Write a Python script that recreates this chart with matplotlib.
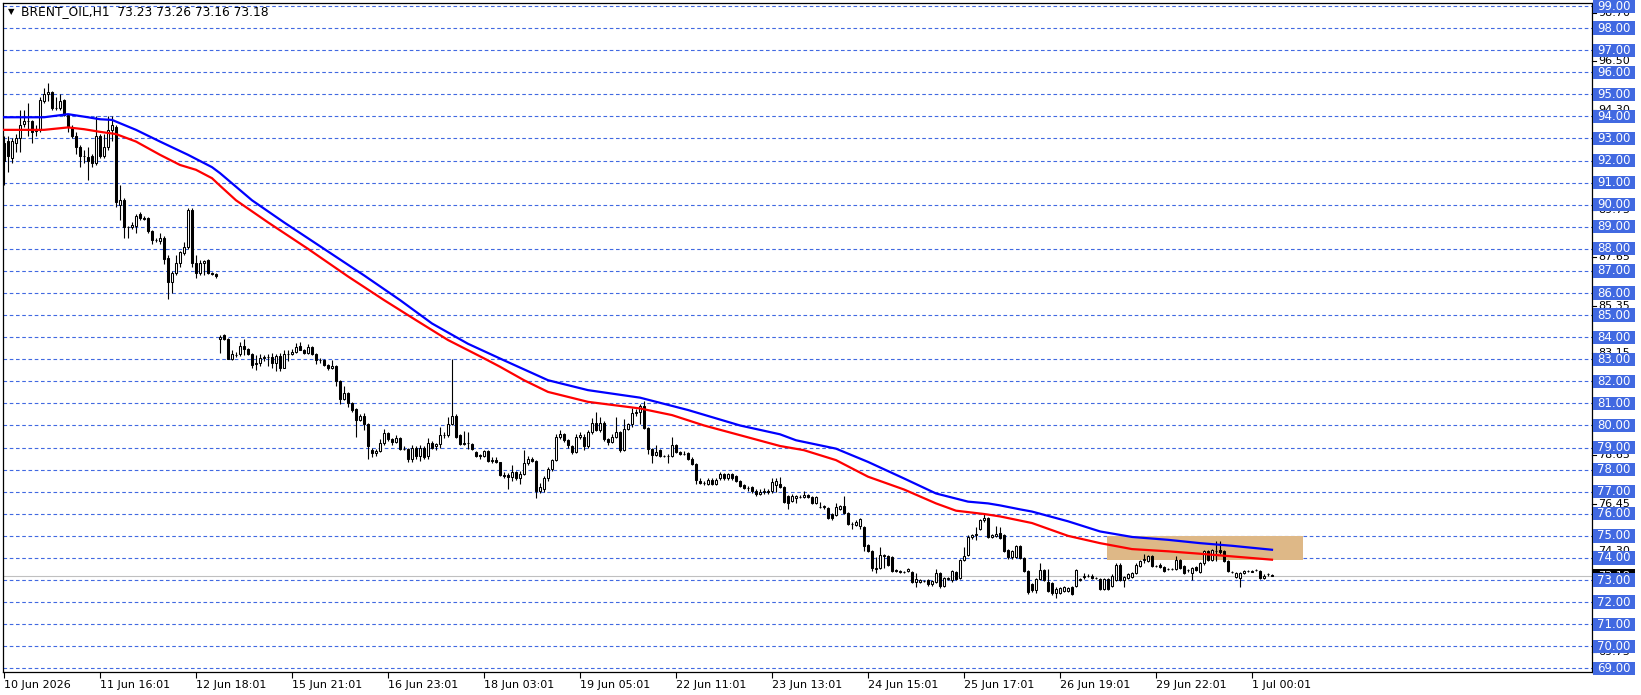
import matplotlib
matplotlib.use('Agg')
import matplotlib.pyplot as plt
from matplotlib.patches import Rectangle
import numpy as np

""" BRENT_OIL H1 candlestick chart in MetaTrader style """

# hourly bars, open / high / low / close
opens = [92.8, 92.9, 92.1, 92.8, 93.0, 93.65, 93.8, 93.8, 93.35, 93.4,
         94.7, 95.0, 95.1, 94.4, 94.4, 94.75, 94.05, 93.5, 93.1, 92.6,
         92.2, 92.15, 92.2, 91.9, 93.1, 92.2, 92.6, 93.4, 93.5, 90.0,
         90.2, 89.0, 89.0, 89.05, 89.6, 89.4, 89.4, 88.8, 88.4, 88.35,
         88.5, 87.6, 86.5, 86.9, 87.35, 87.8, 88.1, 89.75, 87.35, 86.9,
         87.35, 87.5, 86.9, 86.85, 83.9, 84.1, 83.9, 83.0, 83.2, 83.25,
         83.6, 83.45, 83.25, 82.8, 82.85, 83.05, 83.1, 83.1, 82.85, 83.15,
         82.6, 83.25, 83.25, 83.35, 83.6, 83.4, 83.3, 83.55, 83.25, 82.95,
         82.95, 82.75, 82.6, 82.7, 82.0, 81.2, 81.45, 81.0, 80.75, 80.25,
         80.45, 80.05, 78.9, 78.75, 78.85, 79.2, 79.65, 79.4, 79.25, 79.45,
         78.95, 78.95, 78.5, 79.0, 78.6, 79.0, 78.6, 79.2, 79.05, 79.15,
         79.55, 79.55, 80.05, 80.45, 79.55, 79.15, 79.2, 79.15, 78.8, 78.65,
         78.6, 78.85, 78.4, 78.45, 78.35, 77.75, 77.75, 77.65, 77.9, 77.6,
         77.8, 78.3, 78.5, 78.4, 77.05, 77.1, 77.6, 78.05, 78.45, 79.5,
         79.6, 79.35, 79.05, 78.8, 79.5, 79.5, 79.05, 79.7, 80.1, 79.8,
         80.1, 79.4, 79.25, 79.5, 79.7, 78.9, 79.85, 80.05, 80.55, 80.6,
         80.9, 79.9, 78.95, 78.65, 78.9, 78.6, 78.6, 78.6, 79.1, 78.8,
         78.7, 78.75, 78.5, 78.25, 77.5, 77.4, 77.35, 77.55, 77.35, 77.6,
         77.8, 77.6, 77.8, 77.7, 77.5, 77.3, 77.15, 77.2, 77.05, 76.9,
         77.0, 77.05, 77.05, 77.3, 77.35, 77.2, 76.8, 76.6, 76.7, 76.75,
         76.75, 76.85, 76.75, 76.5, 76.3, 76.3, 76.25, 76.0, 75.95, 76.2,
         76.35, 76.05, 75.55, 75.5, 75.45, 75.4, 74.6, 74.3, 73.5, 73.55,
         74.1, 74.1, 74.05, 73.45, 73.42, 73.35, 73.4, 73.35, 72.9, 72.9,
         72.95, 73.0, 72.8, 72.9, 73.3, 72.75, 73.05, 73.0, 73.35, 73.1,
         73.9, 74.15, 74.95, 75.05, 75.3, 75.7, 75.8, 74.95, 75.0, 75.15,
         75.05, 74.35, 74.05, 74.05, 74.55, 74.0, 73.4, 72.8, 72.55, 73.05,
         73.45, 72.9, 72.85, 72.4, 72.4, 72.5, 72.5, 72.7, 72.75, 73.0,
         73.15, 73.2, 73.2, 73.1, 73.05, 72.6, 73.05, 72.75, 73.0, 73.7,
         73.0, 73.1, 73.15, 73.3, 73.65, 73.9, 73.85, 74.1, 73.65, 73.7,
         73.6, 73.5, 73.5, 73.5, 73.9, 73.65, 73.45, 73.3, 73.6, 73.35,
         73.75, 74.3, 73.9, 74.3, 74.35, 74.3, 73.85, 73.35, 73.15, 73.1,
         73.3, 73.4, 73.38, 73.45, 73.4, 73.1, 73.25, 73.23]
highs = [93.1, 93.1, 93.0, 93.2, 94.3, 94.3, 94.6, 93.85, 93.6, 94.9,
         95.3, 95.5, 95.15, 94.9, 95.0, 94.8, 94.1, 93.6, 93.3, 92.7,
         92.5, 92.6, 92.3, 94.0, 93.2, 93.2, 94.0, 94.0, 93.6, 90.9,
         90.3, 89.05, 89.2, 89.6, 89.65, 89.5, 89.45, 88.85, 88.5, 88.7,
         88.6, 87.7, 87.0, 87.7, 87.9, 88.3, 89.85, 89.85, 87.7, 87.5,
         87.5, 87.55, 86.95, 86.9, 84.1, 84.15, 83.95, 83.4, 83.35, 83.8,
         83.9, 83.5, 83.3, 83.2, 83.25, 83.2, 83.25, 83.3, 83.25, 83.3,
         83.4, 83.4, 83.45, 83.75, 83.8, 83.45, 83.7, 83.6, 83.3, 83.05,
         83.0, 82.8, 82.95, 82.75, 82.05, 81.8, 81.5, 81.05, 80.8, 80.5,
         80.55, 80.1, 79.0, 78.95, 79.4, 79.85, 79.7, 79.45, 79.55, 79.5,
         79.05, 79.0, 79.1, 79.05, 79.1, 79.05, 79.45, 79.3, 79.2, 79.95,
         79.7, 80.4, 83.0, 80.5, 79.6, 79.75, 79.7, 79.2, 78.85, 78.7,
         78.9, 78.9, 78.55, 78.55, 78.35, 77.9, 77.85, 78.2, 77.95, 77.95,
         78.9, 78.6, 78.55, 78.45, 77.4, 77.7, 78.1, 78.5, 79.6, 79.8,
         79.65, 79.4, 79.1, 79.6, 79.7, 79.6, 79.8, 80.35, 80.6, 80.4,
         80.2, 79.45, 79.6, 80.4, 79.75, 80.3, 80.1, 80.8, 80.75, 80.95,
         81.1, 79.95, 79.0, 79.1, 78.95, 78.65, 78.7, 79.5, 79.15, 78.85,
         78.85, 78.8, 78.55, 78.3, 77.6, 77.5, 77.6, 77.6, 77.6, 77.9,
         77.85, 77.85, 77.85, 77.75, 77.55, 77.35, 77.25, 77.25, 77.1, 77.1,
         77.15, 77.1, 77.6, 77.6, 77.65, 77.25, 76.85, 76.9, 76.85, 76.85,
         77.05, 76.9, 76.8, 76.8, 76.55, 76.4, 76.3, 76.05, 76.5, 76.4,
         76.8, 76.1, 75.65, 75.7, 75.8, 75.45, 74.65, 74.35, 74.05, 74.5,
         74.2, 74.15, 74.1, 73.5, 73.45, 73.4, 73.55, 73.4, 73.3, 73.05,
         73.0, 73.05, 73.0, 73.5, 73.35, 73.15, 73.15, 73.45, 73.4, 73.95,
         74.5, 75.05, 75.1, 75.4, 75.75, 76.05, 75.85, 75.1, 75.45, 75.4,
         75.1, 74.4, 74.35, 74.6, 74.6, 74.05, 73.45, 72.85, 73.1, 73.75,
         73.5, 73.5, 72.9, 72.7, 72.7, 72.75, 72.7, 72.75, 73.5, 73.1,
         73.3, 73.25, 73.25, 73.15, 73.1, 73.1, 73.1, 73.25, 73.75, 73.75,
         73.2, 73.3, 73.35, 73.75, 73.9, 74.2, 74.15, 74.15, 73.7, 73.75,
         73.65, 73.55, 73.55, 74.1, 73.95, 73.7, 73.5, 73.6, 73.65, 73.8,
         74.35, 74.35, 74.4, 74.75, 74.75, 74.35, 73.9, 73.4, 73.35, 73.35,
         73.45, 73.45, 73.45, 73.5, 73.45, 73.25, 73.3, 73.26]
lows = [90.9, 91.5, 91.9, 92.4, 92.4, 93.5, 93.1, 92.8, 93.1, 93.3,
        94.6, 94.7, 94.3, 94.3, 94.3, 94.0, 93.3, 93.0, 92.3, 91.7,
        91.9, 91.1, 91.7, 91.8, 92.1, 92.1, 92.5, 92.9, 89.9, 89.3,
        88.5, 88.5, 88.9, 88.7, 89.3, 89.3, 88.7, 88.2, 88.3, 88.2,
        87.3, 85.75, 86.0, 86.8, 87.2, 87.7, 88.0, 87.2, 86.7, 86.8,
        86.8, 86.85, 86.8, 86.7, 83.3, 83.85, 83.0, 82.95, 83.1, 83.15,
        83.2, 83.2, 82.6, 82.5, 82.7, 82.9, 82.7, 82.6, 82.45, 82.45,
        82.6, 82.9, 83.2, 83.3, 83.4, 83.25, 83.25, 83.2, 82.8, 82.85,
        82.7, 82.5, 82.55, 81.8, 80.95, 81.15, 80.85, 80.6, 79.5, 80.2,
        79.8, 78.5, 78.55, 78.6, 78.8, 79.1, 79.3, 79.1, 79.2, 78.9,
        78.9, 78.35, 78.35, 78.5, 78.4, 78.5, 78.5, 78.95, 78.9, 79.0,
        79.45, 79.5, 80.0, 79.45, 79.1, 79.1, 78.95, 78.9, 78.55, 78.5,
        78.55, 78.35, 78.3, 78.3, 77.7, 77.6, 77.1, 77.5, 77.55, 77.35,
        77.75, 78.2, 78.35, 76.7, 76.95, 77.0, 77.5, 77.95, 78.4, 79.4,
        79.25, 79.0, 78.7, 78.75, 79.4, 78.9, 79.0, 79.6, 79.75, 79.7,
        79.3, 79.1, 79.2, 79.45, 78.8, 78.85, 79.8, 79.95, 80.45, 80.05,
        79.85, 78.7, 78.3, 78.6, 78.55, 78.55, 78.3, 78.55, 78.75, 78.65,
        78.65, 78.45, 78.2, 77.35, 77.35, 77.3, 77.3, 77.3, 77.3, 77.55,
        77.55, 77.55, 77.55, 77.45, 77.2, 77.1, 77.05, 76.95, 76.8, 76.85,
        76.9, 76.9, 76.95, 77.0, 77.15, 76.5, 76.2, 76.55, 76.5, 76.7,
        76.7, 76.7, 76.45, 76.45, 76.25, 76.2, 75.75, 75.7, 75.9, 76.15,
        76.0, 75.5, 75.3, 75.45, 75.3, 74.3, 74.25, 73.4, 73.3, 73.5,
        73.55, 73.65, 73.35, 73.35, 73.3, 73.3, 73.35, 72.85, 72.7, 72.85,
        72.9, 72.75, 72.75, 72.85, 72.65, 72.7, 73.0, 72.9, 73.0, 73.05,
        73.85, 74.1, 74.85, 74.8, 75.25, 75.65, 74.9, 74.9, 74.95, 74.85,
        74.25, 73.95, 73.95, 74.0, 73.95, 73.35, 72.35, 72.45, 72.4, 73.0,
        72.95, 72.45, 72.3, 72.2, 72.35, 72.45, 72.45, 72.3, 72.7, 72.95,
        73.05, 73.15, 73.05, 73.05, 72.55, 72.55, 72.55, 72.7, 72.95, 72.95,
        72.7, 73.05, 73.1, 73.25, 73.6, 73.75, 73.8, 73.6, 73.6, 73.55,
        73.35, 73.45, 73.45, 73.45, 73.5, 73.25, 73.35, 73.0, 73.4, 73.3,
        73.7, 73.85, 73.85, 73.85, 74.2, 73.8, 73.35, 73.3, 73.1, 72.7,
        73.25, 73.35, 73.35, 73.4, 73.05, 73.05, 73.2, 73.16]
closes = [92.0, 92.2, 92.9, 93.0, 93.6, 93.8, 93.8, 93.3, 93.4, 94.75,
          95.0, 95.1, 94.4, 94.4, 94.7, 94.05, 93.5, 93.1, 92.6, 92.2,
          92.2, 92.0, 91.9, 93.1, 92.2, 92.6, 93.4, 93.6, 90.1, 90.2,
          89.0, 89.0, 89.1, 89.5, 89.4, 89.35, 88.8, 88.4, 88.4, 88.5,
          87.55, 86.5, 86.9, 87.35, 87.85, 88.1, 89.75, 87.35, 86.9, 87.35,
          87.45, 86.9, 86.85, 86.75, 84.0, 83.9, 83.0, 83.25, 83.2, 83.6,
          83.45, 83.25, 82.75, 82.85, 83.05, 83.1, 83.1, 82.85, 83.15, 82.6,
          83.25, 83.25, 83.35, 83.55, 83.4, 83.3, 83.55, 83.25, 82.95, 82.95,
          82.75, 82.6, 82.7, 82.0, 81.2, 81.45, 81.0, 80.7, 80.25, 80.45,
          80.05, 79.05, 78.75, 78.85, 79.2, 79.65, 79.4, 79.25, 79.45, 78.95,
          78.95, 78.5, 79.0, 78.6, 79.0, 78.55, 79.2, 79.0, 79.15, 79.55,
          79.55, 80.05, 80.45, 79.5, 79.15, 79.2, 79.2, 78.95, 78.6, 78.6,
          78.85, 78.4, 78.45, 78.35, 77.75, 77.7, 77.65, 77.9, 77.6, 77.8,
          78.3, 78.5, 78.4, 77.05, 77.2, 77.6, 78.05, 78.45, 79.5, 79.6,
          79.35, 79.1, 78.8, 79.5, 79.55, 79.05, 79.7, 80.1, 79.8, 80.1,
          79.4, 79.25, 79.5, 79.7, 78.9, 79.85, 80.05, 80.55, 80.6, 80.9,
          79.9, 78.95, 78.65, 78.8, 78.6, 78.6, 78.6, 79.1, 78.8, 78.7,
          78.72, 78.5, 78.25, 77.55, 77.4, 77.4, 77.55, 77.35, 77.55, 77.8,
          77.6, 77.8, 77.6, 77.5, 77.25, 77.15, 77.15, 77.05, 76.9, 77.0,
          77.05, 77.0, 77.45, 77.5, 77.2, 76.55, 76.5, 76.8, 76.8, 76.75,
          76.85, 76.75, 76.5, 76.75, 76.3, 76.35, 75.8, 75.8, 76.3, 76.35,
          76.05, 75.55, 75.55, 75.65, 75.75, 74.55, 74.3, 73.55, 73.55, 74.15,
          74.15, 73.7, 73.4, 73.4, 73.35, 73.35, 73.5, 72.9, 73.05, 73.0,
          72.95, 72.8, 72.95, 73.3, 72.75, 73.1, 73.1, 73.4, 73.05, 73.9,
          74.1, 74.95, 75.05, 75.1, 75.7, 75.8, 74.95, 75.05, 75.1, 74.9,
          74.3, 74.05, 74.3, 74.55, 74.0, 73.4, 72.45, 72.55, 73.05, 73.45,
          73.0, 72.5, 72.4, 72.6, 72.65, 72.7, 72.65, 72.35, 73.45, 73.05,
          73.2, 73.2, 73.1, 73.1, 72.6, 73.05, 72.6, 73.2, 73.7, 73.0,
          73.15, 73.25, 73.3, 73.7, 73.85, 73.95, 74.1, 73.65, 73.65, 73.6,
          73.4, 73.5, 73.5, 73.9, 73.55, 73.3, 73.45, 73.55, 73.45, 73.75,
          74.3, 73.9, 74.35, 74.3, 74.25, 73.85, 73.4, 73.35, 73.3, 73.3,
          73.4, 73.4, 73.42, 73.45, 73.1, 73.2, 73.25, 73.18]

# moving averages (bar index, price)
ma_blue_x = [0, 10, 16, 21, 24, 27, 33, 39, 46, 52, 54, 62, 70, 80, 90,
             99, 107, 116, 125, 136, 146, 159, 171, 184, 194, 198, 208,
             216, 225, 233, 241, 246, 249, 254, 257, 266, 274, 282, 291,
             299, 307, 317]
ma_blue_y = [93.96, 93.96, 94.1, 93.96, 93.87, 93.84, 93.39, 92.86, 92.26,
             91.7, 91.43, 90.2, 89.2, 88.0, 86.8, 85.68, 84.62, 83.7, 82.95,
             82.05, 81.6, 81.26, 80.7, 80.0, 79.6, 79.33, 78.95, 78.35, 77.6,
             76.92, 76.55, 76.47, 76.38, 76.2, 76.1, 75.66, 75.2, 74.95,
             74.82, 74.67, 74.55, 74.37]
ma_red_x = [0, 10, 16, 20, 24, 28, 33, 39, 44, 48, 52, 54, 58, 66, 76, 86,
            95, 103, 111, 120, 124, 130, 136, 146, 159, 167, 175, 184, 194,
            200, 208, 216, 225, 233, 238, 245, 249, 257, 266, 274, 282, 291,
            299, 307, 317]
ma_red_y = [93.39, 93.39, 93.5, 93.42, 93.3, 93.2, 92.86, 92.26, 91.8, 91.58,
            91.2, 90.86, 90.2, 89.2, 88.0, 86.75, 85.68, 84.77, 83.87, 83.04,
            82.66, 82.05, 81.52, 81.07, 80.77, 80.47, 80.0, 79.56, 79.07,
            78.88, 78.43, 77.68, 77.1, 76.47, 76.14, 75.99, 75.88, 75.58,
            75.0, 74.67, 74.4, 74.3, 74.19, 74.07, 73.92]

# x axis labels
tick_bars = [0, 24, 48, 72, 96, 120, 144, 168, 192, 216, 240, 264, 288, 312]
tick_labels = ['10 Jun 2026', '11 Jun 16:01', '12 Jun 18:01', '15 Jun 21:01',
               '16 Jun 23:01', '18 Jun 03:01', '19 Jun 05:01', '22 Jun 11:01',
               '23 Jun 13:01', '24 Jun 15:01', '25 Jun 17:01', '26 Jun 19:01',
               '29 Jun 22:01', '1 Jul 00:01']

price_levels = list(range(69, 100))
extra_levels = [98.70, 96.50, 94.30, 89.75, 87.65, 85.40, 83.27, 78.65, 76.45,
                74.30, 69.74]
extra_texts = ['98.70', '96.50', '94.30', '89.75', '87.65', '85.35', '83.15',
               '78.65', '76.45', '74.30', '69.75']
last_price = 73.18
title = 'BRENT_OIL,H1  73.23 73.26 73.16 73.18'

# supply zone rectangle
zone_x = (275.7, 324.8)
zone_y = (73.92, 75.0)

W, H = 1641, 695
GRID = '#4169E1'
plt.rcParams['lines.scale_dashes'] = False
plt.rcParams['font.family'] = ['DejaVu Sans']

fig = plt.figure(figsize=(W / 100, H / 100), dpi=100)
fig.patch.set_facecolor('white')
ax = fig.add_axes([3 / W, (H - 672) / H, 1589 / W, 669 / H])
ax.set_xlim(-0.25, 397)
ax.set_ylim(68.833, 99.136)

for lv in price_levels:
    ax.axhline(lv, color=GRID, lw=0.8, ls=(0, (2.6, 1.9)), zorder=1)

ax.add_patch(Rectangle((zone_x[0], zone_y[0]), zone_x[1] - zone_x[0],
                       zone_y[1] - zone_y[0], fc='#DEB887', ec='none',
                       zorder=1.5))
ax.axhline(last_price, color='#C0C0C0', lw=0.8, zorder=1.6)

idx = np.arange(len(closes))
o = np.array(opens)
c = np.array(closes)
ax.vlines(idx, lows, highs, color='black', lw=0.8, zorder=2)
up = c >= o
ax.bar(idx[up], c[up] - o[up], bottom=o[up], width=0.6, color='white',
       edgecolor='black', linewidth=0.75, zorder=3)
ax.bar(idx[~up], o[~up] - c[~up], bottom=c[~up], width=0.6, color='black',
       edgecolor='black', linewidth=0.75, zorder=3)

ax.plot(ma_red_x, ma_red_y, color='#FF0000', lw=1.6, zorder=4)
ax.plot(ma_blue_x, ma_blue_y, color='#0000FF', lw=1.6, zorder=4)

ax.set_yticks([])
ax.set_xticks(tick_bars)
ax.set_xticklabels(tick_labels, ha='left', fontsize=8)
ax.tick_params(axis='x', length=4, width=0.8, pad=2, direction='out')
for s in ax.spines.values():
    s.set_color('black')
    s.set_linewidth(0.9)

# price scale on the right
yt = ax.get_yaxis_transform()
for lv, txt in zip(extra_levels, extra_texts):
    ax.plot([1.0, 1.0025], [lv, lv], color='black', lw=0.8, transform=yt,
            clip_on=False, zorder=5)
    ax.text(1.0038, lv, txt, transform=yt, ha='left', va='center',
            fontsize=8, color='black', clip_on=False, zorder=5)
box_x = (1593 - 3) / 1589
box_w = 42 / 1589
box_h = 13.3 / 22.077
ax.add_patch(Rectangle((box_x, last_price - box_h / 2), box_w, box_h,
                       transform=yt, fc='black', ec='none', clip_on=False,
                       zorder=6))
ax.text(box_x + box_w / 2, last_price, '73.18', transform=yt, ha='center',
        va='center', fontsize=8, color='white', clip_on=False, zorder=6.5)
for lv in price_levels:
    ax.add_patch(Rectangle((box_x, lv - box_h / 2), box_w, box_h,
                           transform=yt, fc=GRID, ec='none', clip_on=False,
                           zorder=7))
    ax.text(box_x + box_w / 2, lv, '%.2f' % lv, transform=yt, ha='center',
            va='center', fontsize=8.5, color='white', clip_on=False, zorder=8)

fig.text(11 / W, 1 - 12 / H, '\u25bc', fontsize=6, ha='center', va='center')
fig.text(21 / W, 1 - 12 / H, title, fontsize=8.8, ha='left', va='center')

fig.savefig('out.png', dpi=100, facecolor='white')
